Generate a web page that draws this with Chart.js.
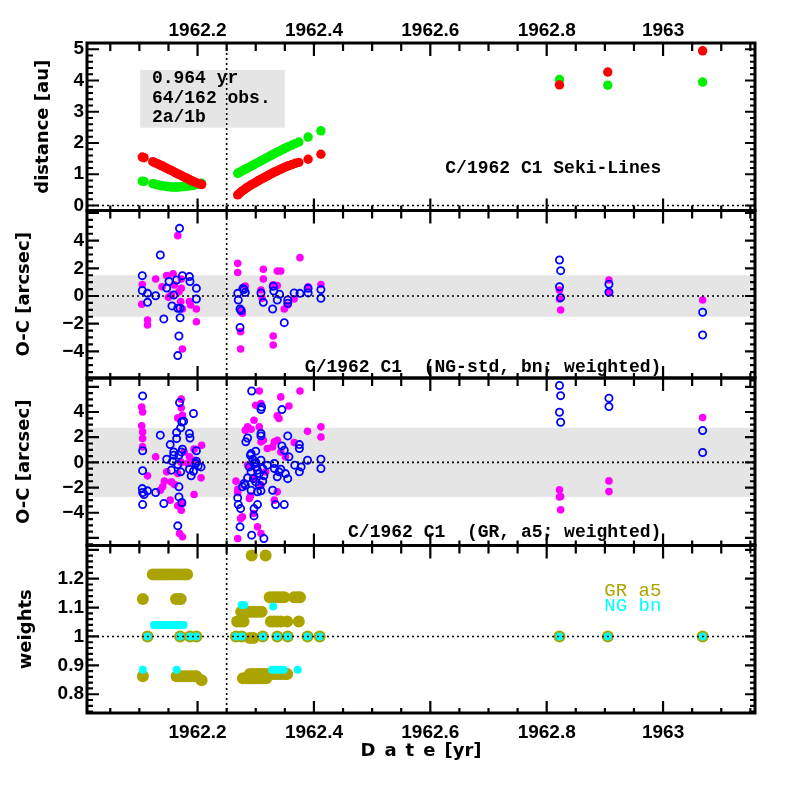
<!DOCTYPE html>
<html lang="en">
<head>
  <meta charset="UTF-8">
  <title>C/1962 C1 Seki-Lines</title>
  <style>
    body { margin: 0; background: #fff; }
    #wrap { width: 799px; height: 799px; }
  </style>
  <script src="https://cdn.jsdelivr.net/npm/chart.js"></script>
</head>
<body>
<div id="wrap"><canvas id="myChart" width="799" height="799"></canvas></div>
<script>
  // axe des dates
  const X_MIN = 1962.01, X_MAX = 1963.158;
  const xTickValues = [1962.2, 1962.4, 1962.6, 1962.8, 1963];
  const PERIHELION = 1962.25;

  // panneau 1 : distances [au]
  const distRed = [
    [1962.105,1.55],[1962.108,1.53],[1962.123,1.40],[1962.127,1.37],[1962.131,1.34],[1962.135,1.30],
    [1962.139,1.27],[1962.143,1.23],[1962.147,1.19],[1962.151,1.15],[1962.155,1.12],[1962.159,1.08],
    [1962.163,1.04],[1962.166,1.01],[1962.170,0.98],[1962.174,0.94],[1962.178,0.90],[1962.182,0.87],
    [1962.186,0.83],[1962.190,0.79],[1962.194,0.76],[1962.198,0.73],[1962.203,0.70],[1962.207,0.67],
    [1962.269,0.34],[1962.272,0.39],[1962.275,0.44],[1962.278,0.48],[1962.281,0.52],[1962.284,0.56],
    [1962.288,0.61],[1962.292,0.66],[1962.296,0.70],[1962.300,0.74],[1962.304,0.79],[1962.308,0.83],
    [1962.312,0.87],[1962.316,0.91],[1962.320,0.95],[1962.324,0.99],[1962.328,1.03],[1962.332,1.07],
    [1962.336,1.10],[1962.340,1.14],[1962.344,1.17],[1962.348,1.21],[1962.352,1.24],[1962.356,1.27],
    [1962.362,1.31],[1962.368,1.35],[1962.374,1.38],[1962.390,1.48],[1962.412,1.64],
    [1962.822,3.86],[1962.905,4.27],[1963.068,4.95]
  ];
  const distGreen = [
    [1962.105,0.78],[1962.108,0.77],[1962.123,0.70],[1962.127,0.68],[1962.131,0.66],[1962.135,0.65],
    [1962.139,0.63],[1962.143,0.62],[1962.147,0.61],[1962.151,0.60],[1962.155,0.59],[1962.159,0.59],
    [1962.163,0.59],[1962.166,0.59],[1962.170,0.60],[1962.174,0.60],[1962.178,0.61],[1962.182,0.62],
    [1962.186,0.63],[1962.190,0.64],[1962.194,0.65],[1962.198,0.67],[1962.203,0.69],[1962.207,0.71],
    [1962.269,1.03],[1962.272,1.06],[1962.275,1.09],[1962.278,1.12],[1962.281,1.15],[1962.284,1.18],
    [1962.288,1.22],[1962.292,1.26],[1962.296,1.30],[1962.300,1.34],[1962.304,1.38],[1962.308,1.42],
    [1962.312,1.46],[1962.316,1.50],[1962.320,1.54],[1962.324,1.58],[1962.328,1.62],[1962.332,1.66],
    [1962.336,1.70],[1962.340,1.73],[1962.344,1.77],[1962.348,1.81],[1962.352,1.85],[1962.356,1.88],
    [1962.362,1.93],[1962.368,1.98],[1962.374,2.03],[1962.390,2.19],[1962.412,2.39],
    [1962.822,4.03],[1962.905,3.85],[1963.068,3.95]
  ];

  // panneau 2 : O-C NG-std bn [arcsec]
  const ocNgMagenta = [
    [1962.105,0.83],[1962.104,-0.6],[1962.114,-1.74],[1962.114,-2.1],[1962.128,1.23],[1962.139,0.67],
    [1962.147,1.47],[1962.155,0.07],[1962.160,0.8],[1962.166,4.36],[1962.172,1.23],[1962.172,0.55],
    [1962.171,-0.4],[1962.174,-0.94],[1962.174,-3.83],[1962.186,-0.4],[1962.188,-0.65],[1962.198,-0.94],
    [1962.198,-1.86],[1962.168,0.3],[1962.150,-0.1],[1962.158,1.6],
    [1962.269,2.36],[1962.269,1.7],[1962.274,-1.13],[1962.277,-1.25],[1962.274,-2.58],[1962.274,-3.83],
    [1962.282,0.72],[1962.313,1.93],[1962.313,1.23],[1962.309,0.43],[1962.311,-0.17],[1962.337,1.8],
    [1962.343,1.8],[1962.330,0.8],[1962.337,0.75],[1962.330,-2.89],[1962.330,-3.54],[1962.349,-0.94],
    [1962.355,-0.65],[1962.366,-0.22],[1962.376,2.77],[1962.390,0.67],[1962.412,0.83],
    [1962.822,0.43],[1962.822,-0.22],[1962.824,-1.01],[1962.907,1.16],[1962.907,0.27],[1963.068,-0.29]
  ];
  const ocNgBlue = [
    [1962.105,1.47],[1962.105,0.4],[1962.114,0.19],[1962.114,-0.46],[1962.128,0.02],[1962.136,2.96],
    [1962.142,-1.66],[1962.147,0.57],[1962.151,1.05],[1962.159,0.07],[1962.156,-0.72],[1962.164,1.15],
    [1962.166,-0.89],[1962.170,-0.89],[1962.170,-1.57],[1962.168,-2.89],[1962.166,-4.31],[1962.169,4.89],
    [1962.174,1.47],[1962.186,1.4],[1962.187,1.05],[1962.198,0.55],[1962.198,-0.22],
    [1962.269,0.19],[1962.270,-0.29],[1962.273,-0.94],[1962.275,-1.05],[1962.273,-2.27],[1962.278,0.55],
    [1962.280,0.46],[1962.282,0.26],[1962.309,0.22],[1962.313,-0.46],[1962.330,0.7],[1962.331,0.36],
    [1962.329,-0.94],[1962.337,-0.29],[1962.341,0.12],[1962.349,-1.93],[1962.355,-0.29],[1962.355,-0.53],
    [1962.366,0.22],[1962.376,0.19],[1962.390,0.22],[1962.390,0.55],[1962.412,0.46],[1962.412,-0.17],
    [1962.822,2.6],[1962.824,1.83],[1962.822,0.67],[1962.824,-0.12],[1962.907,0.85],[1962.907,0.27],
    [1963.068,-1.18],[1963.068,-2.82]
  ];

  // panneau 3 : O-C GR a5 [arcsec]
  const ocGrMagenta = [
    [1962.1056,4.01],[1962.104,4.4],[1962.104,2.9],[1962.1056,2.42],[1962.1056,1.89],[1962.1056,1.23],
    [1962.114,-1.07],[1962.128,0.44],[1962.140,-1.94],[1962.136,-2.21],[1962.143,-1.49],[1962.153,-3.0],
    [1962.160,-1.75],[1962.166,-3.45],[1962.172,-3.8],[1962.174,-3.27],[1962.169,-5.65],[1962.174,-5.91],
    [1962.172,5.02],[1962.172,4.33],[1962.166,3.53],[1962.174,3.74],[1962.177,0.83],[1962.183,-0.09],
    [1962.186,0.44],[1962.194,1.05],[1962.194,0.17],[1962.207,1.36],[1962.206,-1.23],[1962.194,-2.55],
    [1962.166,-0.89],[1962.147,-0.75],[1962.155,-1.55],[1962.172,0.0],
    [1962.306,5.67],[1962.309,4.67],[1962.300,4.54],[1962.343,5.2],[1962.357,4.48],[1962.376,5.67],
    [1962.340,3.48],[1962.337,3.69],[1962.297,3.35],[1962.292,2.63],[1962.282,2.55],[1962.286,2.82],
    [1962.306,2.82],[1962.309,1.63],[1962.313,1.76],[1962.332,1.63],[1962.337,1.76],[1962.366,1.57],
    [1962.389,2.47],[1962.412,2.82],[1962.412,2.02],[1962.266,-1.49],[1962.269,-2.13],[1962.269,-2.39],
    [1962.274,-4.46],[1962.277,-4.33],[1962.303,-5.12],[1962.309,-5.65],[1962.337,-2.34],[1962.332,-3.0],
    [1962.289,-2.87],[1962.291,-2.66],[1962.296,-4.06],[1962.269,-6.05],[1962.320,1.1],[1962.329,1.23],
    [1962.343,0.83],[1962.351,0.44],[1962.297,-1.29],[1962.309,-1.81],[1962.317,-0.75],[1962.286,-0.22],
    [1962.822,-2.18],[1962.824,-2.71],[1962.822,-2.75],[1962.824,-3.77],[1962.907,-1.47],[1962.907,-2.32],
    [1963.068,3.56]
  ];
  const ocGrBlue = [
    [1962.1056,5.28],[1962.1056,0.92],[1962.1056,-0.66],[1962.105,-2.08],[1962.1056,-2.39],[1962.108,-2.55],
    [1962.1056,-3.35],[1962.114,-2.26],[1962.128,-2.39],[1962.136,2.16],[1962.142,-3.27],[1962.147,0.25],
    [1962.153,1.41],[1962.159,0.57],[1962.155,-0.62],[1962.164,1.89],[1962.164,2.37],[1962.169,4.75],
    [1962.171,2.74],[1962.173,3.21],[1962.176,3.27],[1962.168,0.57],[1962.166,-0.17],[1962.171,-0.75],
    [1962.168,-1.94],[1962.168,-2.74],[1962.173,-3.19],[1962.166,-5.04],[1962.174,1.05],[1962.172,0.83],
    [1962.159,0.83],[1962.157,0.09],[1962.186,2.29],[1962.187,1.94],[1962.186,-0.54],[1962.189,-1.07],
    [1962.193,3.88],[1962.193,-0.7],[1962.198,0.92],[1962.198,0.09],[1962.201,-0.28],[1962.206,-0.36],
    [1962.197,-0.09],
    [1962.293,5.67],[1962.309,4.19],[1962.310,4.4],[1962.345,4.19],[1962.283,1.63],[1962.286,1.94],
    [1962.292,0.7],[1962.300,0.89],[1962.309,2.29],[1962.309,2.1],[1962.355,2.1],[1962.345,1.31],
    [1962.349,0.97],[1962.357,0.44],[1962.375,1.41],[1962.375,1.1],[1962.389,0.17],[1962.412,0.25],
    [1962.412,-0.49],[1962.367,-0.22],[1962.378,-0.36],[1962.375,-0.75],[1962.269,-2.82],[1962.270,-3.35],
    [1962.274,-3.67],[1962.273,-5.12],[1962.293,-5.78],[1962.314,-6.05],[1962.280,-1.68],[1962.277,-1.94],
    [1962.282,-1.81],[1962.297,-3.67],[1962.297,-4.25],[1962.303,-3.35],[1962.309,-2.26],[1962.329,-2.21],
    [1962.332,-0.49],[1962.334,-3.35],[1962.349,-3.35],[1962.337,-1.15],[1962.340,-0.75],[1962.355,-1.29],
    [1962.351,-0.89],[1962.291,0.57],[1962.295,0.25],[1962.297,-0.09],[1962.300,-0.36],[1962.303,-0.62],
    [1962.306,-0.89],[1962.292,-0.75],[1962.296,-1.29],[1962.300,-1.55],[1962.306,-1.81],[1962.312,-1.49],
    [1962.314,-1.07],[1962.312,-0.49],[1962.289,-0.36],[1962.286,-1.23],[1962.292,-2.21],[1962.303,-2.34],
    [1962.300,0.0],[1962.309,0.17],[1962.320,-0.22],[1962.332,-0.09],[1962.343,-0.54],
    [1962.822,6.1],[1962.824,5.3],[1962.822,3.98],[1962.824,3.19],[1962.907,5.1],[1962.907,4.43],
    [1963.068,2.53],[1963.068,0.78]
  ];

  // panneau 4 : poids
  const weightsGr = [
    [1962.106,1.13],[1962.106,0.862],[1962.114,1.0],
    [1962.123,1.215],[1962.128,1.215],[1962.133,1.215],[1962.138,1.215],[1962.143,1.215],[1962.148,1.215],
    [1962.153,1.215],[1962.158,1.215],[1962.163,1.215],[1962.168,1.215],[1962.173,1.215],[1962.178,1.215],
    [1962.182,1.215],[1962.163,1.13],[1962.168,1.13],[1962.171,1.13],
    [1962.170,1.0],[1962.187,1.0],[1962.198,1.0],
    [1962.164,0.862],[1962.169,0.862],[1962.174,0.862],[1962.179,0.862],[1962.184,0.862],[1962.189,0.862],
    [1962.194,0.862],[1962.198,0.862],[1962.207,0.848],
    [1962.293,1.28],[1962.317,1.28],
    [1962.275,1.086],[1962.280,1.086],[1962.285,1.086],[1962.290,1.086],[1962.295,1.086],[1962.300,1.086],
    [1962.305,1.086],[1962.310,1.086],
    [1962.268,1.052],[1962.274,1.052],[1962.279,1.052],
    [1962.324,1.136],[1962.329,1.136],[1962.334,1.136],[1962.339,1.136],[1962.344,1.136],[1962.349,1.136],
    [1962.366,1.136],[1962.372,1.136],[1962.376,1.136],
    [1962.326,1.052],[1962.331,1.052],[1962.337,1.052],[1962.343,1.052],[1962.354,1.052],[1962.374,1.052],
    [1962.266,1.0],[1962.276,1.0],[1962.312,1.0],[1962.337,1.0],[1962.355,1.0],[1962.389,1.0],[1962.410,1.0],
    [1962.290,0.995],[1962.296,0.995],
    [1962.278,0.855],[1962.283,0.855],[1962.288,0.855],[1962.293,0.855],[1962.298,0.855],[1962.303,0.855],
    [1962.308,0.855],[1962.313,0.855],[1962.318,0.855],
    [1962.290,0.87],[1962.295,0.87],[1962.300,0.87],[1962.305,0.87],[1962.310,0.87],[1962.315,0.87],
    [1962.320,0.87],[1962.325,0.87],[1962.330,0.87],[1962.335,0.87],[1962.340,0.87],[1962.345,0.87],
    [1962.350,0.87],[1962.354,0.87],
    [1962.822,1.0],[1962.905,1.0],[1963.068,1.0]
  ];
  const weightsNg = [
    [1962.106,0.885],[1962.164,0.885],
    [1962.125,1.04],[1962.130,1.04],[1962.135,1.04],[1962.140,1.04],[1962.145,1.04],[1962.150,1.04],
    [1962.155,1.04],[1962.160,1.04],[1962.165,1.04],[1962.170,1.04],[1962.176,1.04],
    [1962.114,1.0],[1962.170,1.0],[1962.187,1.0],[1962.198,1.0],
    [1962.276,1.109],[1962.280,1.109],[1962.330,1.104],
    [1962.266,1.0],[1962.276,1.0],[1962.312,1.0],[1962.337,1.0],[1962.355,1.0],[1962.389,1.0],[1962.410,1.0],
    [1962.328,0.885],[1962.333,0.885],[1962.338,0.885],[1962.343,0.885],[1962.348,0.885],[1962.372,0.885],
    [1962.822,1.0],[1962.905,1.0],[1963.068,1.0]
  ];

  // graduations des axes y
  const yTicks1 = [0, 1, 2, 3, 4, 5];
  const yTicks2 = [-4, -2, 0, 2, 4];
  const yTicks3 = [-4, -2, 0, 2, 4];
  const yTicks4 = [0.8, 0.9, 1, 1.1, 1.2];

  const toXY = arr => arr.map(p => ({ x: p[0], y: p[1] }));

  const tickFont = { family: 'Liberation Sans', weight: 'bold', size: 19 };
  const titleFont = { family: 'DejaVu Sans', weight: 'bold', size: 18 };
  const monoFont = 'bold 18px "Liberation Mono"';

  function yAxis(min, max, ticks, title, padTop) {
    return {
      type: 'linear', position: 'left', stack: 'panels', stackWeight: 1,
      min: min, max: max,
      afterBuildTicks: s => { s.ticks = ticks.map(v => ({ value: v })); },
      afterFit: s => { s.width = 87; },
      ticks: {
        autoSkip: false, color: '#000', font: tickFont, padding: 3,
        callback: v => String(v).replace('-', '\u2212')
      },
      grid: { display: false, drawTicks: false },
      border: { display: false },
      title: { display: true, text: title, color: '#000', font: titleFont, padding: { top: padTop, bottom: 0 } }
    };
  }

  function xAxis(pos) {
    return {
      type: 'linear', position: pos, min: X_MIN, max: X_MAX,
      afterBuildTicks: s => { s.ticks = xTickValues.map(v => ({ value: v })); },
      afterFit: s => { s.height = (pos === 'top') ? 43 : 86; },
      ticks: { autoSkip: false, maxRotation: 0, color: '#000', font: tickFont, padding: pos === 'top' ? 1 : 8,
               callback: v => String(v) },
      grid: { display: false, drawTicks: false },
      border: { display: false },
      title: { display: pos === 'bottom', text: 'D\u2002a\u2002t\u2002e\u2002[yr]', color: '#000', font: titleFont,
               padding: { top: 0, bottom: 37 } }
    };
  }

  // décor : cadres, graduations, lignes pointillées, textes
  const panelDeco = {
    id: 'panelDeco',
    beforeDatasetsDraw(chart) {
      const ctx = chart.ctx, xs = chart.scales.x, area = chart.chartArea;
      ctx.save();
      ctx.fillStyle = '#e5e5e5';
      [['y2', 1.5], ['y3', 2.75]].forEach(b => {
        const s = chart.scales[b[0]];
        const t = s.getPixelForValue(b[1]), u = s.getPixelForValue(-b[1]);
        ctx.fillRect(area.left, t, area.right - area.left, u - t);
      });
      const y1 = chart.scales.y1;
      const bx0 = xs.getPixelForValue(1962.1015), bx1 = xs.getPixelForValue(1962.35);
      const by0 = y1.getPixelForValue(4.34), by1 = y1.getPixelForValue(2.49);
      ctx.fillRect(bx0, by0, bx1 - bx0, by1 - by0);
      ctx.fillStyle = '#000';
      ctx.font = monoFont;
      ctx.textBaseline = 'middle';
      ctx.textAlign = 'left';
      const tx = xs.getPixelForValue(1962.1215);
      ctx.fillText('0.964 yr', tx, y1.getPixelForValue(4.05));
      ctx.fillText('64/162 obs.', tx, y1.getPixelForValue(3.44));
      ctx.fillText('2a/1b', tx, y1.getPixelForValue(2.83));
      ctx.restore();
    },
    afterDatasetsDraw(chart) {
      const ctx = chart.ctx, xs = chart.scales.x, area = chart.chartArea;
      const panels = [
        { id: 'y1', minor: 0.2, ratio: 5, ref: 0 },
        { id: 'y2', minor: 0.5, ratio: 4, ref: 0 },
        { id: 'y3', minor: 0.5, ratio: 4, ref: 0 },
        { id: 'y4', minor: 0.02, ratio: 5, ref: 1 }
      ];
      ctx.save();
      ctx.strokeStyle = '#000';
      // lignes pointillées
      ctx.lineWidth = 1.6;
      ctx.setLineDash([2, 3]);
      ctx.beginPath();
      panels.forEach(p => {
        const py = chart.scales[p.id].getPixelForValue(p.ref);
        ctx.moveTo(area.left, py); ctx.lineTo(area.right, py);
      });
      const px = xs.getPixelForValue(PERIHELION);
      ctx.moveTo(px, area.top); ctx.lineTo(px, area.bottom);
      ctx.stroke();
      ctx.setLineDash([]);

      // graduations
      ctx.lineWidth = 2.2;
      ctx.beginPath();
      panels.forEach(p => {
        const ys = chart.scales[p.id];
        const T = ys.top, B = ys.bottom, L = area.left, R = area.right;
        for (let k = Math.ceil(X_MIN * 20 - 1e-6); k <= Math.floor(X_MAX * 20 + 1e-6); k++) {
          const x = xs.getPixelForValue(k / 20);
          const major = k % 4 === 0;
          ctx.moveTo(x, T); ctx.lineTo(x, T + (major ? 13 : 8));
          ctx.moveTo(x, B); ctx.lineTo(x, B - (major ? 12 : 5));
        }
        const n0 = Math.ceil(ys.min / p.minor - 1e-6), n1 = Math.floor(ys.max / p.minor + 1e-6);
        for (let n = n0; n <= n1; n++) {
          const y = ys.getPixelForValue(n * p.minor);
          const major = n % p.ratio === 0;
          ctx.moveTo(L, y); ctx.lineTo(L + (major ? 12 : 6), y);
          ctx.moveTo(R, y); ctx.lineTo(R - (major ? 10 : 5), y);
        }
      });
      ctx.stroke();

      // cadres
      ctx.lineWidth = 3;
      panels.forEach(p => {
        const ys = chart.scales[p.id];
        ctx.strokeRect(area.left, ys.top, area.right - area.left, ys.bottom - ys.top);
      });

      // étiquettes des panneaux
      ctx.fillStyle = '#000';
      ctx.font = monoFont;
      ctx.textAlign = 'right';
      ctx.textBaseline = 'middle';
      const lx = xs.getPixelForValue(1962.997);
      ctx.fillText('C/1962 C1 Seki-Lines', lx, chart.scales.y1.getPixelForValue(1.2));
      ctx.fillText('C/1962 C1  (NG-std, bn; weighted)', lx, chart.scales.y2.getPixelForValue(-5.2));
      ctx.fillText('C/1962 C1  (GR, a5; weighted)', lx, chart.scales.y3.getPixelForValue(-5.6));

      // légende des poids
      ctx.font = '19px "Liberation Mono"';
      ctx.fillStyle = '#aba400';
      ctx.fillText('GR a5', lx, chart.scales.y4.getPixelForValue(1.159));
      ctx.fillStyle = '#00ffff';
      ctx.fillText('NG bn', lx, chart.scales.y4.getPixelForValue(1.106));
      ctx.restore();
    }
  };

  const filled = (data, axis, color, r) => ({
    data: toXY(data), yAxisID: axis, xAxisID: 'x',
    backgroundColor: color, borderColor: color, borderWidth: 0, pointRadius: r, pointHoverRadius: r
  });
  const hollow = (data, axis, color, r) => ({
    data: toXY(data), yAxisID: axis, xAxisID: 'x',
    backgroundColor: 'rgba(0,0,0,0)', borderColor: color, borderWidth: 1.8, pointRadius: r, pointHoverRadius: r
  });

  const ctx = document.getElementById('myChart').getContext('2d');
  const myChart = new Chart(ctx, {
    type: 'scatter',
    data: {
      datasets: [
        filled(distRed, 'y1', '#ff0000', 4.7),
        filled(distGreen, 'y1', '#00f000', 4.7),
        hollow(ocNgBlue, 'y2', '#0000ff', 3.6),
        filled(ocNgMagenta, 'y2', '#ff00ff', 3.8),
        hollow(ocGrBlue, 'y3', '#0000ff', 3.6),
        filled(ocGrMagenta, 'y3', '#ff00ff', 3.8),
        filled(weightsNg, 'y4', '#00ffff', 4),
        filled(weightsGr, 'y4', '#aba400', 6)
      ]
    },
    options: {
      responsive: false,
      maintainAspectRatio: false,
      devicePixelRatio: 1,
      animation: false,
      events: [],
      layout: { padding: { left: 0, right: 44, top: 0, bottom: 0 } },
      plugins: { legend: { display: false }, tooltip: { enabled: false } },
      scales: {
        x: xAxis('bottom'),
        x2: xAxis('top'),
        y4: yAxis(0.735, 1.315, yTicks4, 'weights', 16),
        y3: yAxis(-6.6, 6.7, yTicks3, 'O-C [arcsec]', 14),
        y2: yAxis(-5.93, 6.18, yTicks2, 'O-C [arcsec]', 14),
        y1: yAxis(-0.16, 5.2, yTicks1, 'distance [au]', 33)
      }
    },
    plugins: [panelDeco]
  });
</script>
</body>
</html>
